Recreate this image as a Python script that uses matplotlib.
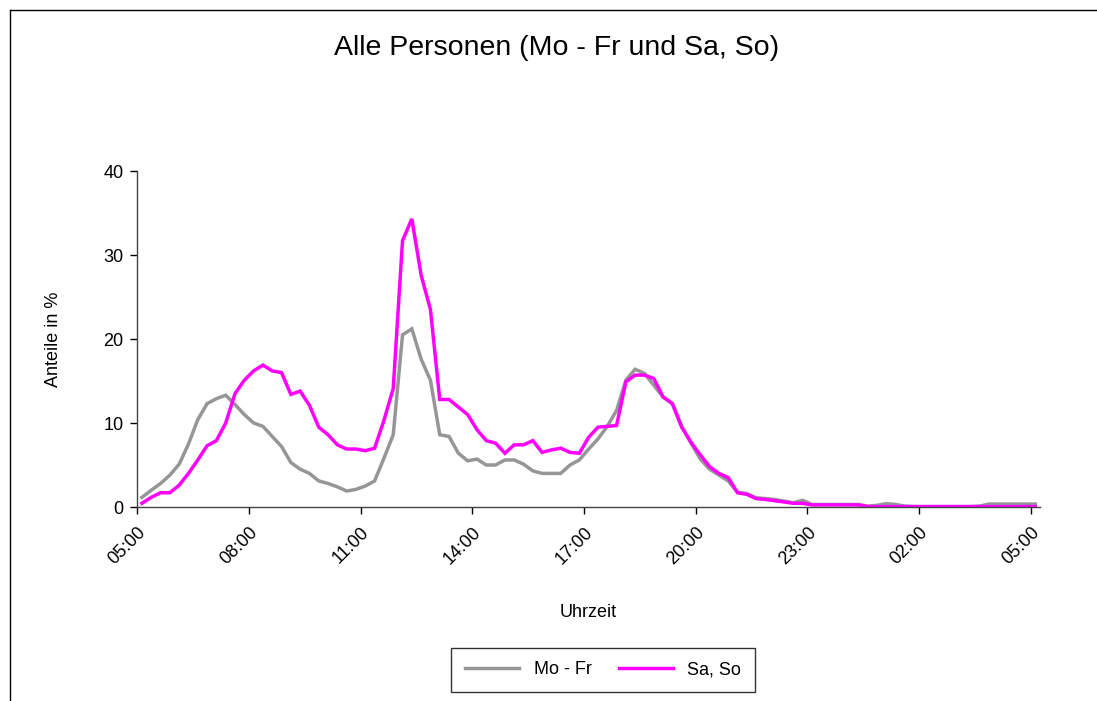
import matplotlib
matplotlib.use("Agg")
import matplotlib.pyplot as plt
from matplotlib.lines import Line2D
import numpy as np

plt.rcParams['font.family'] = ['Liberation Sans', 'DejaVu Sans']

# 15-minute steps from 05:00 to 05:00 next day (97 points)
tick_labels = ["05:00", "08:00", "11:00", "14:00", "17:00", "20:00", "23:00", "02:00", "05:00"]

mo_fr = [1.15, 2.0, 2.8, 3.8, 5.1, 7.5, 10.4, 12.3, 12.9, 13.3,
         12.2, 11.0, 10.0, 9.6, 8.4, 7.2, 5.3, 4.5, 4.0, 3.1,
         2.8, 2.4, 1.9, 2.1, 2.5, 3.1, 5.8, 8.6, 20.5, 21.2,
         17.6, 15.1, 8.6, 8.4, 6.4, 5.5, 5.7, 5.0, 5.0, 5.6,
         5.6, 5.1, 4.3, 4.0, 4.0, 4.0, 5.0, 5.6, 6.9, 8.1,
         9.6, 11.5, 15.1, 16.4, 15.9, 14.5, 13.1, 12.3, 9.6, 7.6,
         5.7, 4.5, 3.8, 3.1, 1.75, 1.6, 1.1, 1.0, 0.9, 0.7,
         0.5, 0.8, 0.3, 0.3, 0.3, 0.3, 0.3, 0.3, 0.1, 0.2,
         0.4, 0.3, 0.1, 0.05, 0.05, 0.05, 0.05, 0.05, 0.05, 0.05,
         0.1, 0.35, 0.35, 0.35, 0.35, 0.35, 0.35]

sa_so = [0.44, 1.15, 1.7, 1.7, 2.6, 4.0, 5.6, 7.3, 7.9, 10.0,
         13.5, 15.1, 16.2, 16.9, 16.2, 16.0, 13.4, 13.8, 12.1, 9.5,
         8.6, 7.4, 6.9, 6.9, 6.7, 7.0, 10.3, 14.1, 31.7, 34.3,
         27.6, 23.5, 12.8, 12.8, 11.9, 11.0, 9.2, 7.9, 7.6, 6.4,
         7.4, 7.4, 7.9, 6.5, 6.8, 7.0, 6.5, 6.4, 8.3, 9.5,
         9.6, 9.7, 14.9, 15.7, 15.7, 15.3, 13.1, 12.3, 9.5, 7.7,
         6.2, 4.8, 4.0, 3.5, 1.7, 1.5, 1.0, 0.9, 0.75, 0.6,
         0.44, 0.44, 0.25, 0.25, 0.25, 0.25, 0.25, 0.25, 0.05, 0.05,
         0.05, 0.05, 0.05, 0.05, 0.05, 0.05, 0.05, 0.05, 0.05, 0.05,
         0.05, 0.05, 0.05, 0.05, 0.05, 0.05, 0.05]

W, H = 1097, 701
fig = plt.figure(figsize=(W / 100, H / 100), dpi=100)
fig.patch.set_facecolor("white")

ax = fig.add_axes([137.3 / W, 1 - 507 / H, (1040 - 137.3) / W, (507 - 171) / H])
x = np.arange(len(mo_fr))
ax.plot(x, mo_fr, color="#969696", lw=2.5, label="Mo - Fr", solid_joinstyle="miter")
ax.plot(x, sa_so, color="#FF00FF", lw=2.5, label="Sa, So", solid_joinstyle="miter")

ax.set_xlim(-0.5, len(mo_fr) - 0.5)
ax.set_ylim(0, 40)
ax.set_yticks([0, 10, 20, 30, 40])
ax.set_xticks([-0.5 + 12 * k for k in range(len(tick_labels))])
ax.set_xticklabels(tick_labels, rotation=45, ha="right", rotation_mode="anchor")
ax.tick_params(axis="both", direction="out", length=5, width=1, colors="black", labelsize=13)
ax.tick_params(axis="x", pad=7)
ax.tick_params(axis="y", pad=5)
for s in ["top", "right"]:
    ax.spines[s].set_visible(False)
for s in ["left", "bottom"]:
    ax.spines[s].set_color("#444444")
    ax.spines[s].set_linewidth(1)

ax.set_ylabel("Anteile in %", fontsize=13, labelpad=30)
ax.set_xlabel("Uhrzeit", fontsize=13, labelpad=26)

fig.text(557 / W, 1 - 48 / H, "Alle Personen (Mo - Fr und Sa, So)", ha="center", va="center", fontsize=20.5)

leg = fig.legend(loc="center", bbox_to_anchor=(603 / W, 1 - 670 / H), ncol=2, frameon=True,
                 fancybox=False, fontsize=13, handlelength=3.0, columnspacing=1.5,
                 borderpad=0.75, handletextpad=0.8)
leg.get_frame().set_edgecolor("black")
leg.get_frame().set_linewidth(1)

# outer chart frame (left and top edges visible)
fig.add_artist(Line2D([9.5 / W, 9.5 / W], [0, 1 - 9.5 / H], color="black", lw=1))
fig.add_artist(Line2D([9.5 / W, 1], [1 - 9.5 / H, 1 - 9.5 / H], color="black", lw=1))

fig.savefig("out.png", dpi=100, facecolor="white")
